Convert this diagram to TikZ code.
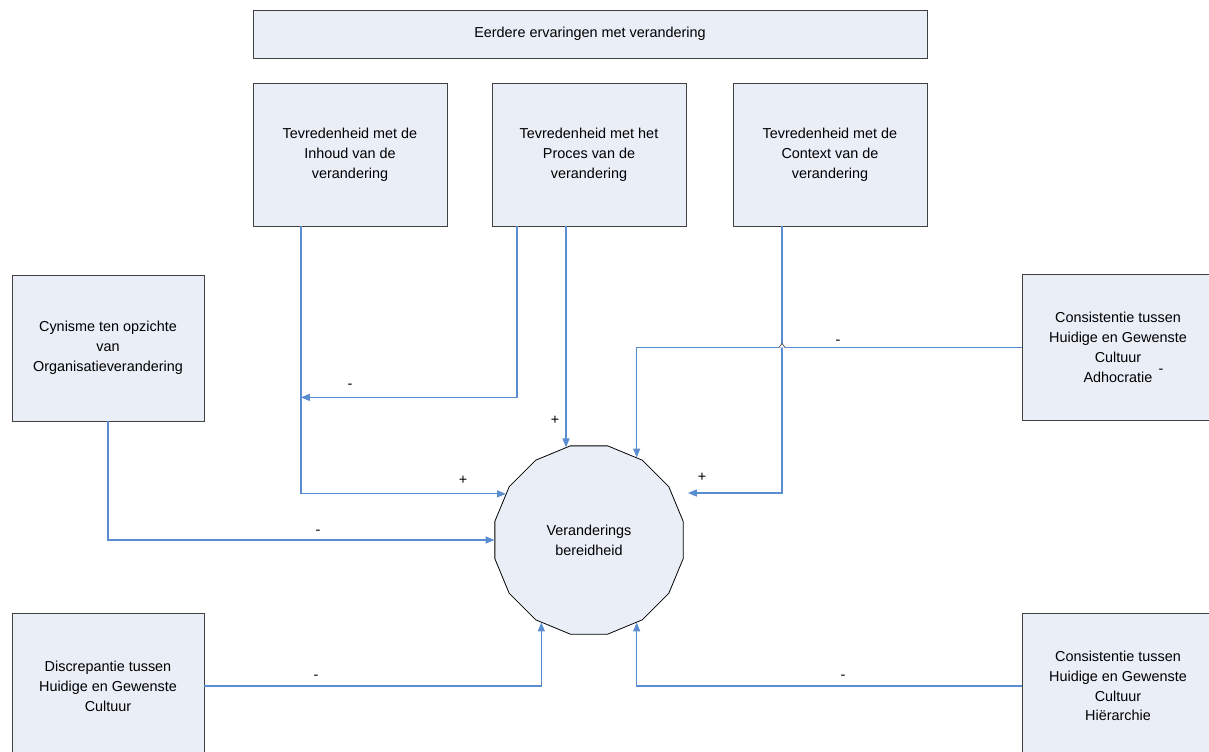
\documentclass[tikz,border=0pt]{standalone}
\usepackage{fontspec}
\setmainfont{Liberation Sans}
\usetikzlibrary{shapes.geometric,arrows.meta}
\definecolor{boxfill}{RGB}{233,238,247}
\definecolor{linkblue}{RGB}{90,140,208}

\begin{document}
\begin{tikzpicture}[x=0.02cm, y=-0.02cm,
        every node/.style={font=\fontsize{8.2}{11.3}\selectfont},
        box/.style={draw=black!75, fill=boxfill, line width=0.5pt, align=center, inner sep=0pt, minimum width=3.88cm, minimum height=2.86cm},
        link/.style={draw=linkblue, line width=0.6pt, -{Triangle[length=5pt,width=4pt]}},
        sign/.style={inner sep=0pt}]
    \useasboundingbox (0,0) rectangle (1209,751);
    \clip (0,0) rectangle (1209,751);

    \node[box, minimum width=13.48cm, minimum height=0.96cm] (eerder) at (590,34) {Eerdere ervaringen met verandering};
    \node[box] (inhoud) at (350,154.5) {Tevredenheid met de\\Inhoud van de\\verandering};
    \node[box] (proces) at (589,154.5) {Tevredenheid met het\\Proces van de\\verandering};
    \node[box] (context) at (830,154.5) {Tevredenheid met de\\Context van de\\verandering};
    \node[box, minimum width=3.84cm, minimum height=2.92cm] (cynisme) at (108,348) {Cynisme ten opzichte\\van\\Organisatieverandering};
    \node[box, minimum width=3.84cm, minimum height=2.92cm] (adhoc) at (1118,347.5) {Consistentie tussen\\Huidige en Gewenste\\Cultuur\\Adhocratie};
    \node[box, minimum width=3.84cm, minimum height=2.92cm] (discrep) at (108,686) {Discrepantie tussen\\Huidige en Gewenste\\Cultuur};
    \node[box, minimum width=3.84cm, minimum height=2.92cm] (hier) at (1118,686) {Consistentie tussen\\Huidige en Gewenste\\Cultuur\\Hiërarchie};
    \node[regular polygon, regular polygon sides=16, draw=black, fill=boxfill, line width=0.45pt, inner sep=0pt, minimum size=3.84cm, align=center] (bereid) at (589,540) {Veranderings\\bereidheid};

    \coordinate (inA) at ([xshift=-0.98cm]inhoud.south);
    \coordinate (prA) at ([xshift=-1.44cm]proces.south);
    \coordinate (prB) at ([xshift=-0.46cm]proces.south);
    \coordinate (ctx) at ([xshift=-0.96cm]context.south);
    \coordinate (ctxEnd) at (688,493);

    \draw[link] (inA) |- (bereid.151);
    \draw[link] (prA) |- ([yshift=-3.42cm]inA);
    \draw[link] (prB) -- (prB |- bereid.104);
    \draw[link] (adhoc.west) -| (bereid.60);
    \draw[link] (ctx) |- (ctxEnd);
    \coordinate (hop) at (ctx |- adhoc.west);
    \draw[black!70, fill=white, line width=0.4pt] ([xshift=-0.06cm]hop) -- ([yshift=0.08cm]hop) -- ([xshift=0.06cm]hop);
    \draw[link] (cynisme.south) |- (bereid.west);
    \draw[link] (discrep.east) -| (bereid.-120);
    \draw[link] (hier.west) -| (bereid.-60);

    \node[sign] at (350,386) {-};
    \node[sign] at (555,420) {+};
    \node[sign] at (463,480) {+};
    \node[sign] at (702,477) {+};
    \node[sign] at (838,342) {-};
    \node[sign] at (1161,371) {-};
    \node[sign] at (318,532) {-};
    \node[sign] at (316,677) {-};
    \node[sign] at (843,677) {-};
\end{tikzpicture}
\end{document}
